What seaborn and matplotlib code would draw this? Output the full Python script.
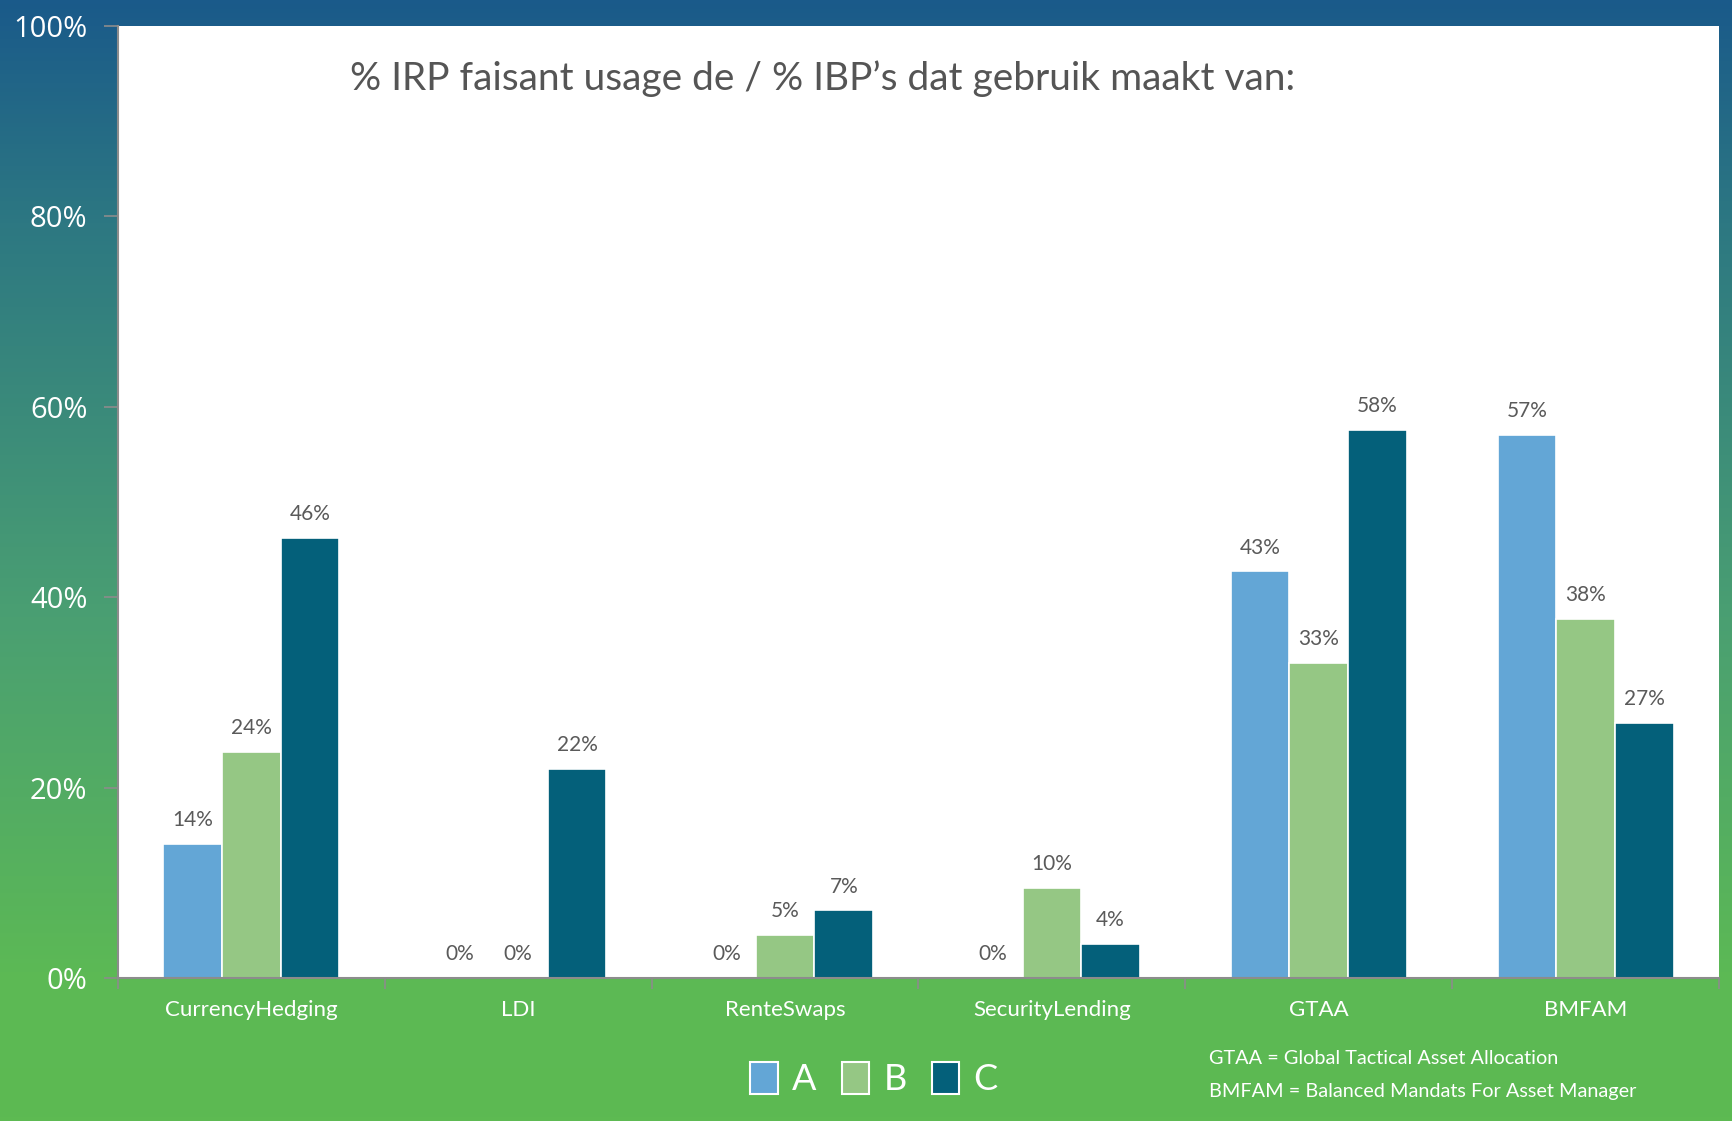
import numpy as np
import pandas as pd
import seaborn as sns
import matplotlib.pyplot as plt
from matplotlib.colors import LinearSegmentedColormap
from matplotlib.patches import Patch

categories = ["CurrencyHedging", "LDI", "RenteSwaps", "SecurityLending", "GTAA", "BMFAM"]
series_a = [14.1, 0.0, 0.0, 0.0, 42.7, 57.0]
series_b = [23.7, 0.0, 4.5, 9.5, 33.1, 37.7]
series_c = [46.2, 22.0, 7.1, 3.6, 57.6, 26.8]
labels_a = ["14%", "0%", "0%", "0%", "43%", "57%"]
labels_b = ["24%", "0%", "5%", "10%", "33%", "38%"]
labels_c = ["46%", "22%", "7%", "4%", "58%", "27%"]
series_names = ["A", "B", "C"]
y_ticks = [0, 20, 40, 60, 80, 100]
y_tick_labels = ["0%", "20%", "40%", "60%", "80%", "100%"]
title = "% IRP faisant usage de / % IBP\u2019s dat gebruik maakt van:"
notes = ["GTAA = Global Tactical Asset Allocation",
         "BMFAM = Balanced Mandats For Asset Manager"]

colors = ["#63A6D6", "#95C784", "#04607A"]
narrow = ["Lato", "DejaVu Sans"]

df = pd.DataFrame({
    "cat": categories * 3,
    "serie": sum([[s] * len(categories) for s in series_names], []),
    "val": series_a + series_b + series_c,
})

sns.set_theme(style="white")
plt.rcParams["font.family"] = ["Open Sans", "DejaVu Sans"]

fig = plt.figure(figsize=(17.33, 11.21), dpi=100)

# gradient background over the whole figure
bg = fig.add_axes([0, 0, 1, 1], zorder=-10)
cmap = LinearSegmentedColormap.from_list(
    "bg", [(0.0, "#1A5A8A"), (0.2, "#2D7882"), (0.55, "#4A9F72"), (0.87, "#5CB955"), (1.0, "#5DBA52")])
bg.imshow(np.linspace(0, 1, 256).reshape(-1, 1), aspect="auto", cmap=cmap, extent=[0, 1, 0, 1])
bg.axis("off")

ax = fig.add_axes([118 / 1733, 143 / 1121, 1601 / 1733, 952 / 1121])
ax.set_facecolor("white")
sns.barplot(data=df, x="cat", y="val", hue="serie", palette=colors, width=0.66, saturation=1,
            edgecolor="white", linewidth=1.2, ax=ax, legend=False)

for cont, labs in zip(ax.containers, [labels_a, labels_b, labels_c]):
    ax.bar_label(cont, labels=labs, padding=10, fontsize=15, color="#5A5A5A", family=narrow)

ax.set_xlim(-0.5, 5.5)
ax.set_ylim(0, 100)
ax.set_yticks(y_ticks)
ax.set_yticklabels(y_tick_labels, color="white", fontsize=21)
ax.set_xticks(range(len(categories)))
ax.set_xticklabels(categories, color="white", fontsize=16, family=narrow)
ax.set_xticks(np.arange(-0.5, 6, 1), minor=True)
ax.tick_params(axis="y", left=True, length=10, width=1.2, color="#8C8C8C", pad=12)
ax.tick_params(axis="x", which="major", bottom=False, pad=10)
ax.tick_params(axis="x", which="minor", bottom=True, length=8, width=1.2, color="#8C8C8C")
ax.set_xlabel("")
ax.set_ylabel("")
for side in ["top", "right"]:
    ax.spines[side].set_visible(False)
for side in ["left", "bottom"]:
    ax.spines[side].set_color("#8C8C8C")
    ax.spines[side].set_linewidth(1.5)

fig.text(823 / 1733, 1 - 79 / 1121, title, ha="center", va="center",
         fontsize=28, color="#555555", family=narrow)

handles = [Patch(facecolor=c, edgecolor="white", linewidth=1.5) for c in colors]
fig.legend(handles, series_names, loc="center", bbox_to_anchor=(874 / 1733, 1 - 1079 / 1121),
           ncol=3, frameon=False, labelcolor="white", prop={"family": narrow, "size": 26},
           handlelength=0.75, handleheight=1.0, handletextpad=0.4, columnspacing=0.7)

for i, note in enumerate(notes):
    fig.text(1209 / 1733, 1 - (1058 + 34 * i) / 1121, note, ha="left", va="center",
             fontsize=14.3, color="white", family=narrow)

fig.savefig("out.png", dpi=100)
